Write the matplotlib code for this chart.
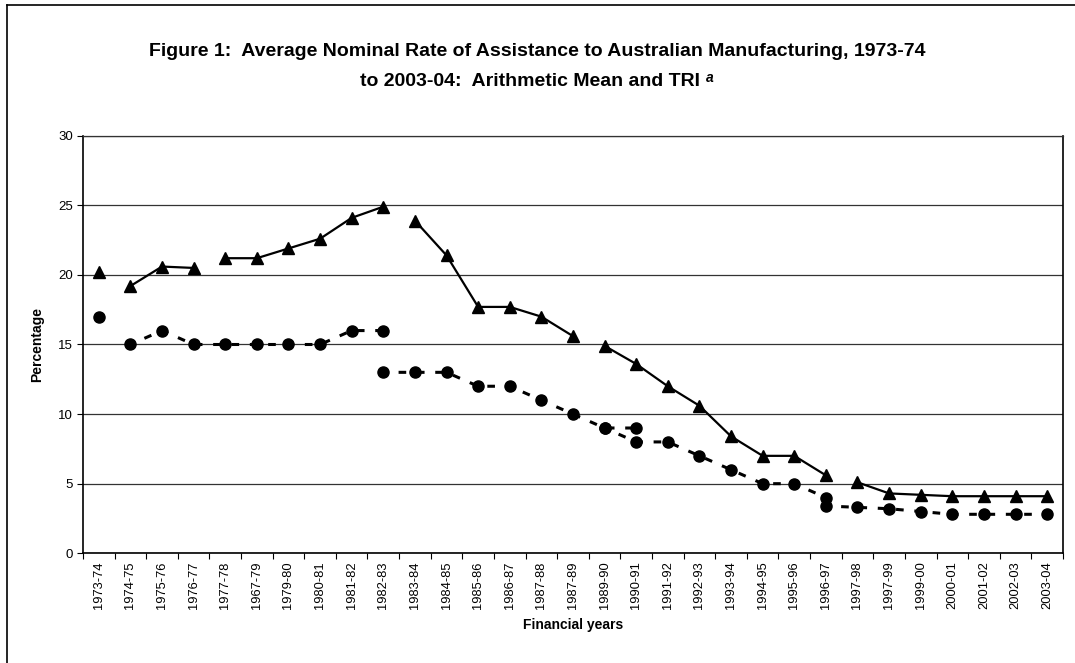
import numpy as np
import matplotlib.pyplot as plt
from matplotlib.lines import Line2D

plt.rcParams['font.family'] = ['Liberation Sans', 'DejaVu Sans']

years = ['1973-74', '1974-75', '1975-76', '1976-77', '1977-78', '1967-79', '1979-80',
         '1980-81', '1981-82', '1982-83', '1983-84', '1984-85', '1985-86', '1986-87',
         '1987-88', '1987-89', '1989-90', '1990-91', '1991-92', '1992-93', '1993-94',
         '1994-95', '1995-96', '1996-97', '1997-98', '1997-99', '1999-00', '2000-01',
         '2001-02', '2002-03', '2003-04']

# arithmetic mean (triangles) - series breaks, each piece starts at the given year
arith_segments = [
    ('1973-74', [20.2]),
    ('1974-75', [19.2, 20.6, 20.5]),
    ('1977-78', [21.2, 21.2, 21.9, 22.6, 24.1, 24.9]),
    ('1983-84', [23.9, 21.4, 17.7, 17.7, 17.0, 15.6]),
    ('1989-90', [14.9, 13.6, 12.0, 10.6, 8.4, 7.0, 7.0, 5.6]),
    ('1997-98', [5.1, 4.3, 4.2, 4.1, 4.1, 4.1, 4.1]),
]

# TRI (circles)
tri_segments = [
    ('1973-74', [17]),
    ('1974-75', [15, 16, 15, 15, 15, 15, 15, 16, 16]),
    ('1982-83', [13, 13, 13, 12, 12, 11, 10, 9, 9]),
    ('1989-90', [9, 8, 8, 7, 6, 5, 5, 4]),
    ('1996-97', [3.4, 3.3, 3.2, 3.0, 2.8, 2.8, 2.8, 2.8]),
]

fig = plt.figure(figsize=(10.75, 6.63), dpi=100)
ax = fig.add_axes([0.0772, 0.1655, 0.9116, 0.6298])

x = np.arange(len(years))
for start, vals in arith_segments:
    i = years.index(start)
    ax.plot(x[i:i + len(vals)], vals, color='black', lw=1.6, marker='^',
            ms=8.5, zorder=3)
for start, vals in tri_segments:
    i = years.index(start)
    ax.plot(x[i:i + len(vals)], vals, color='black', lw=2.2, ls=(1.0, (2.5, 3.5)),
            marker='o', ms=8, zorder=3)

ax.set_xlim(-0.5, len(years) - 0.5)
ax.set_ylim(0, 30)
ax.set_yticks(range(0, 31, 5))
ax.yaxis.grid(True, color='#333333', lw=0.9)
ax.set_axisbelow(True)

ax.set_xticks(np.arange(-0.5, len(years), 1))
ax.set_xticklabels([])
ax.set_xticks(x, minor=True)
ax.set_xticklabels(years, minor=True, rotation=90, fontsize=9.3)
ax.tick_params(axis='x', which='major', length=4, width=0.8)
ax.tick_params(axis='x', which='minor', length=0, pad=6)
ax.tick_params(axis='y', length=4, width=0.8, labelsize=9.5, pad=3)

for s in ['left', 'bottom', 'right']:
    ax.spines[s].set_linewidth(1.2)
ax.spines['top'].set_linewidth(0.9)
ax.spines['top'].set_color('#333333')

ax.set_ylabel('Percentage', fontsize=10, fontweight='bold', labelpad=10)
ax.set_xlabel('Financial years', fontsize=10, fontweight='bold', labelpad=6)

fig.text(0.5, 1 - 52 / 663, 'Figure 1:  Average Nominal Rate of Assistance to Australian Manufacturing, 1973-74',
         ha='center', va='center', fontsize=14, fontweight='bold')
t2 = fig.text(0.5 - 8 / 1075, 1 - 82 / 663, 'to 2003-04:  Arithmetic Mean and TRI',
              ha='center', va='center', fontsize=14, fontweight='bold')

# superscript "a" just after the second title line
bb = t2.get_window_extent(renderer=fig.canvas.get_renderer())
fig.text((bb.x1 + 6) / fig.bbox.width, (bb.y1 + 3) / fig.bbox.height, 'a',
         ha='left', va='top', fontsize=10, fontweight='bold', style='italic')

# outer chart border
fig.add_artist(Line2D([7 / 1075, 7 / 1075], [0, 1 - 5 / 663], color='black', lw=1.2))
fig.add_artist(Line2D([7 / 1075, 1], [1 - 5 / 663, 1 - 5 / 663], color='black', lw=1.2))

fig.savefig('out.png', dpi=100)
